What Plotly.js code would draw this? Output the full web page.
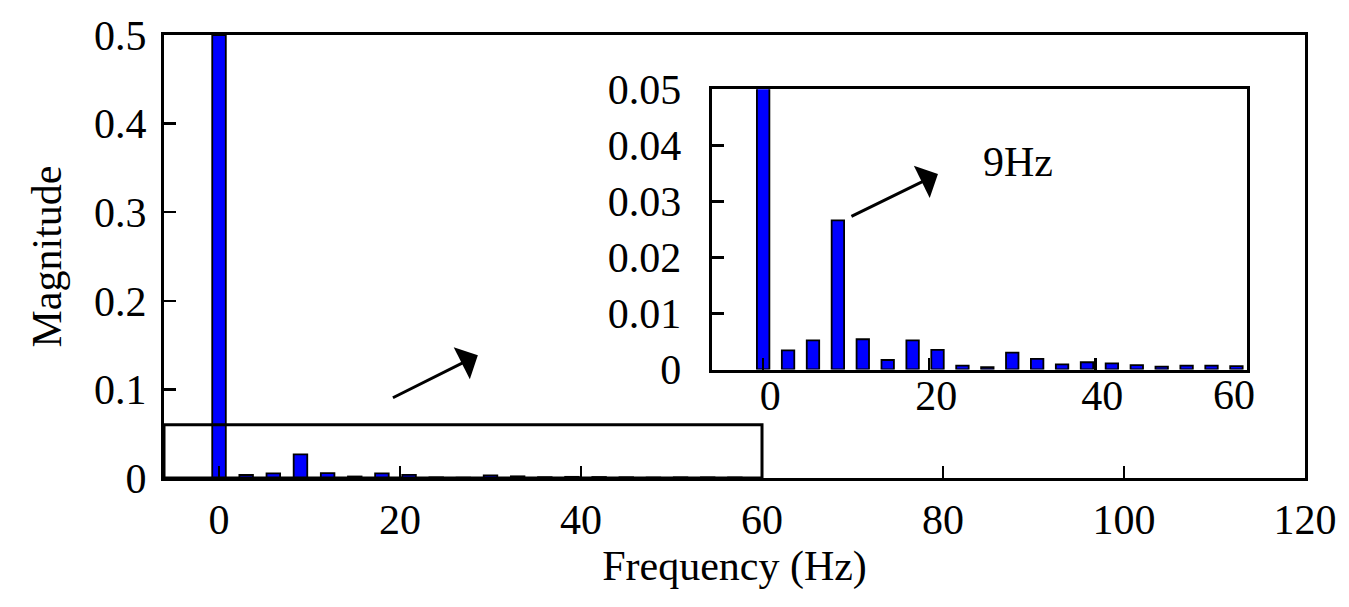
<!DOCTYPE html>
<html>
<head>
<meta charset="utf-8">
<script src="https://cdn.plot.ly/plotly-3.0.1.min.js"></script>
<style>
html,body{margin:0;padding:0;background:#ffffff;}
#chart{width:1349px;height:607px;}
</style>
</head>
<body>
<div id="chart"></div>
<script>
// ---- data ----
const freqHz = [0, 3, 6, 9, 12, 15, 18, 21, 24, 27, 30, 33, 36, 39, 42, 45, 48, 51, 54, 57];
const magnitude = [0.5, 0.0034, 0.0052, 0.0266, 0.0054, 0.0017, 0.0052, 0.0035, 0.0007, 0.0004,
                   0.0030, 0.0019, 0.0009, 0.0013, 0.0011, 0.0008, 0.0005, 0.0007, 0.0007, 0.0006];
const mainXTicks = [0, 20, 40, 60, 80, 100, 120];
const mainYTicks = [0, 0.1, 0.2, 0.3, 0.4, 0.5];
const insetXTicks = [0, 20, 40];
const insetXLabels = ['0', '20', '40', '60'];
const insetYTicks = [0, 0.01, 0.02, 0.03, 0.04, 0.05];
const insetYLabels = ['0', '0.01', '0.02', '0.03', '0.04', '0.05'];
const zoomRegionHz = 60;      // zoomed region: 0-60 Hz
const zoomRegionMag = 0.06;   // zoomed region: 0-0.06
const peakLabel = '9Hz';

const FONT = 'Liberation Serif, Times New Roman, serif';
const mainXRange = [-6.08, 120];
const insetXRange = [-6.2, 58.25];

const barStyle = {color: '#0000ff', line: {color: '#000000', width: 1.8}};

const traces = [
  {type: 'bar', x: freqHz, y: magnitude, width: 1.5, marker: barStyle,
   xaxis: 'x', yaxis: 'y', hoverinfo: 'skip', showlegend: false},
  {type: 'bar', x: freqHz, y: magnitude, width: 1.5, marker: barStyle,
   xaxis: 'x2', yaxis: 'y2', hoverinfo: 'skip', showlegend: false}
];

const axisCommon = {
  showgrid: false, zeroline: false, showline: true, mirror: true,
  linecolor: '#000', linewidth: 3, ticks: 'inside', tickcolor: '#000', ticklen: 12, tickwidth: 2.5,
  tickfont: {family: FONT, size: 42, color: '#000'}
};

const layout = {
  width: 1349, height: 607,
  margin: {l: 164, r: 44, t: 35, b: 129},
  paper_bgcolor: '#fff', plot_bgcolor: 'rgba(0,0,0,0)',
  font: {family: FONT, color: '#000', size: 42},
  bargap: 0,
  xaxis: Object.assign({}, axisCommon, {
    domain: [0, 1], range: mainXRange, tickvals: mainXTicks,
    ticklabelstandoff: 3,
    title: {text: 'Frequency (Hz)', font: {family: FONT, size: 42, color: '#000'}, standoff: 4}
  }),
  yaxis: Object.assign({}, axisCommon, {
    domain: [0, 1], range: [0, 0.5], tickvals: mainYTicks,
    ticklabelstandoff: 6,
    title: {text: 'Magnitude', font: {family: FONT, size: 42, color: '#000'}, standoff: 20}
  }),
  xaxis2: Object.assign({}, axisCommon, {
    domain: [0.48, 0.949], range: insetXRange, anchor: 'y2',
    tickvals: insetXTicks, ticktext: insetXLabels.slice(0, insetXTicks.length),
    ticklabelshift: 7, ticklabelstandoff: -13
  }),
  yaxis2: Object.assign({}, axisCommon, {
    domain: [0.2449, 0.8773], range: [0, 0.05], anchor: 'x2',
    tickvals: insetYTicks, ticktext: insetYLabels, ticklabelstandoff: 19
  }),
  shapes: [
    {type: 'rect', xref: 'x', yref: 'y', x0: mainXRange[0], x1: zoomRegionHz, y0: 0, y1: zoomRegionMag,
     line: {color: '#000', width: 3}, fillcolor: 'rgba(0,0,0,0)', layer: 'above'}
  ],
  annotations: [
    // arrow from zoom box toward inset
    {xref: 'x', yref: 'y', axref: 'x', ayref: 'y', x: 28.6, y: 0.1386, ax: 19.05, ay: 0.0897,
     showarrow: true, arrowhead: 1, arrowsize: 2, arrowwidth: 3, arrowcolor: '#000', text: ''},
    // arrow from 9 Hz peak toward label
    {xref: 'x2', yref: 'y2', axref: 'x2', ayref: 'y2', x: 21.05, y: 0.0349, ax: 10.45, ay: 0.0272,
     showarrow: true, arrowhead: 1, arrowsize: 2, arrowwidth: 3, arrowcolor: '#000', text: ''},
    {xref: 'x2', yref: 'y2', x: 30.7, y: 0.037, text: peakLabel, showarrow: false,
     font: {family: FONT, size: 42, color: '#000'}},
    // last inset tick label sits at the inset's right edge
    {xref: 'x2 domain', yref: 'y2 domain', x: 1, y: 0, xanchor: 'right', yanchor: 'top',
     xshift: 10, yshift: 0, text: insetXLabels[insetXLabels.length - 1], showarrow: false,
     font: {family: FONT, size: 42, color: '#000'}}
  ]
};

Plotly.newPlot('chart', traces, layout, {displayModeBar: false, staticPlot: true});
</script>
</body>
</html>
